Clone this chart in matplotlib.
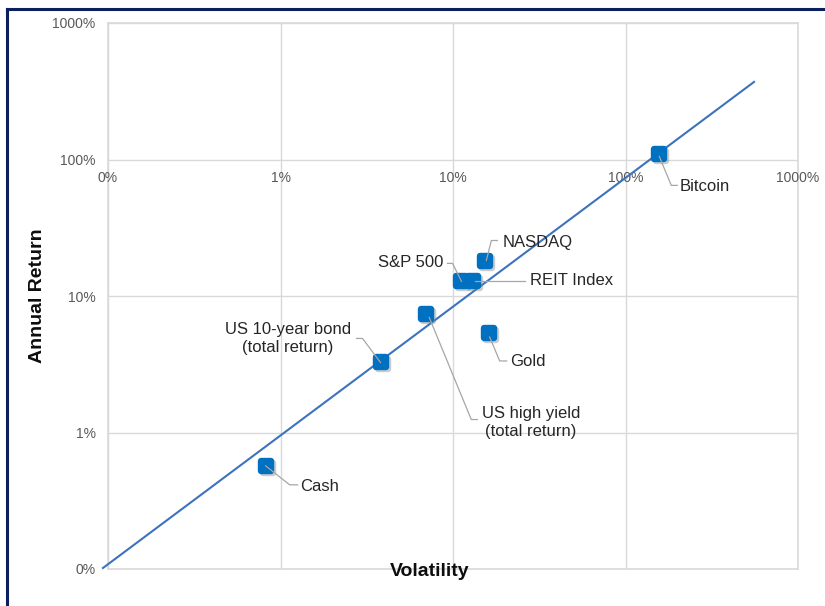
import matplotlib
matplotlib.use("Agg")
import matplotlib.pyplot as plt
from matplotlib.markers import MarkerStyle
from matplotlib.lines import Line2D
from matplotlib.transforms import offset_copy

plt.rcParams['font.family'] = ['Liberation Sans', 'DejaVu Sans']

# ---- data (percent) ----
assets = ["Cash", "US 10-year bond\n(total return)", "US high yield\n(total return)",
          "S&P 500", "REIT Index", "NASDAQ", "Gold", "Bitcoin"]
volatility = [0.82, 3.85, 7.0, 11.2, 13.0, 15.4, 16.1, 157]
annual_return = [0.57, 3.26, 7.44, 12.8, 12.8, 18.2, 5.36, 109]
trend_x = [0.0935, 556]
trend_y = [0.1017, 370]
tick_values = [0.1, 1, 10, 100, 1000]
tick_labels = ["0%", "1%", "10%", "100%", "1000%"]

# label layout: leader vertices (pixel offsets, image y down), text offset, alignment
layout = {
    "Cash": ([(0, 0), (24, 19), (32, 19)], (34.5, 21), 'left'),
    "US 10-year bond\n(total return)": ([(-1, 0), (-19, -24), (-25, -24)], (-93.5, -23.5), 'center'),
    "US high yield\n(total return)": ([(3, 4), (45, 106), (51, 106)], (104.5, 109), 'center'),
    "S&P 500": ([(0, 0), (-9, -18), (-14, -18)], (-18, -18.5), 'right'),
    "REIT Index": ([(2, 0), (52, 0)], (57, -0.5), 'left'),
    "NASDAQ": ([(1, 0), (6, -20), (12, -20)], (17, -18.5), 'left'),
    "Gold": ([(1, 4), (11, 28), (18, 28)], (21.5, 29), 'left'),
    "Bitcoin": ([(0, 2), (12, 31), (18, 31)], (20.5, 32.5), 'left'),
}

W, H = 825, 606
fig = plt.figure(figsize=(W / 100, H / 100), dpi=100)
fig.patch.set_facecolor('white')
ax = fig.add_axes([108 / W, 1 - 569 / H, (798 - 108) / W, (569 - 23) / H])
ax.set_xscale('log')
ax.set_yscale('log')
ax.set_xlim(0.1, 1000)
ax.set_ylim(0.1, 1000)
ax.set_xticks(tick_values)
ax.set_yticks(tick_values)
ax.minorticks_off()
ax.set_xticklabels([])
ax.set_yticklabels(tick_labels, fontsize=10, color='#595959')
ax.tick_params(axis='both', length=0)
ax.tick_params(axis='y', pad=9)
ax.grid(True, color='#D9D9D9', linewidth=1.0)
for s in ax.spines.values():
    s.set_color('#D9D9D9')
    s.set_linewidth(1.2)

# x tick labels along the 100% line
for v, lab in zip(tick_values, tick_labels):
    ax.annotate(lab, xy=(v, 100), xytext=(0, -18), textcoords='offset pixels',
                ha='center', va='center', fontsize=10, color='#595959', annotation_clip=False)

# trend line
ax.plot(trend_x, trend_y, color='#3C72BE', linewidth=1.5, clip_on=False, zorder=3)

# markers with shadow
mstyle = MarkerStyle('s', joinstyle='round')
shadow_tr = offset_copy(ax.transData, fig=fig, x=2, y=-2, units='dots')
ax.plot(volatility, annual_return, linestyle='none', marker=mstyle, ms=6.5, mew=4.6,
        mfc='#7F7F7F', mec='#7F7F7F', alpha=0.4, transform=shadow_tr, zorder=4)
ax.plot(volatility, annual_return, linestyle='none', marker=mstyle, ms=6.5, mew=4.6,
        mfc='#0070C0', mec='#0070C0', zorder=5)

# leaders and labels
inv = fig.transFigure.inverted()
for name, vx, vy in zip(assets, volatility, annual_return):
    verts, toff, ha = layout[name]
    px, py = ax.transData.transform((vx, vy))
    pts = [inv.transform((px + dx, py - dy)) for dx, dy in verts]
    fig.add_artist(Line2D([p[0] for p in pts], [p[1] for p in pts], color='#A6A6A6',
                          linewidth=0.9, transform=fig.transFigure, zorder=6))
    ax.annotate(name, xy=(vx, vy), xytext=(toff[0], -toff[1]), textcoords='offset pixels',
                ha=ha, va='center', multialignment='center', fontsize=12, color='#262626',
                linespacing=1.25, annotation_clip=False, zorder=7)

# axis titles
fig.text(430 / W, 1 - 572 / H, "Volatility", ha='center', va='center',
         fontsize=14, fontweight='bold', color='#0D0D0D')
fig.text(37 / W, 1 - 296 / H, "Annual Return", ha='center', va='center', rotation=90,
         fontsize=14, fontweight='bold', color='#0D0D0D')

# navy frame (top and left)
fig.add_artist(Line2D([7 / W, 1.0], [1 - 9 / H, 1 - 9 / H], color='#0B1F5C', linewidth=2.2,
                      transform=fig.transFigure))
fig.add_artist(Line2D([7 / W, 7 / W], [1 - 9 / H, 0.0], color='#0B1F5C', linewidth=2.2,
                      transform=fig.transFigure))

fig.savefig("out.png", dpi=100)
